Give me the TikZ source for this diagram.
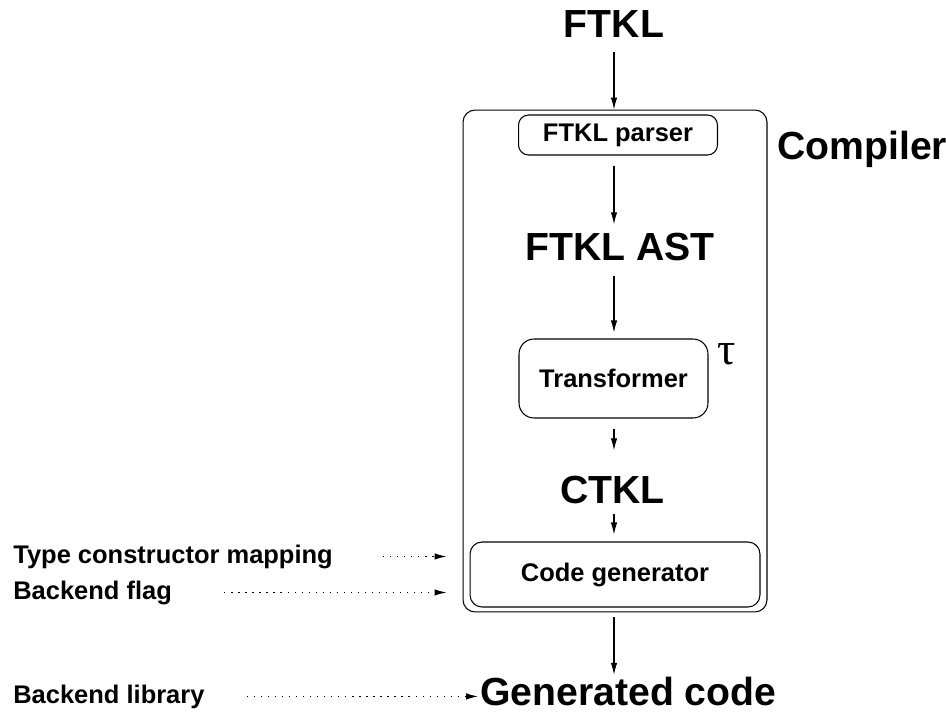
\documentclass[tikz,border=0pt]{standalone}
\usepackage{fontspec}
\setmainfont{Liberation Sans}
\newfontfamily\greekserif{Liberation Serif}
\usepackage{tikz}
\usetikzlibrary{arrows.meta}

\begin{document}
\begin{tikzpicture}[x=0.02cm, y=-0.02cm,
  big/.style={font=\bfseries\fontsize{22.3}{26}\selectfont, inner sep=0pt},
  lbl/.style={font=\bfseries\fontsize{14.5}{17}\selectfont, inner sep=0pt},
  stage/.style={draw, line width=0.6pt, rounded corners=0.24cm, inner sep=0pt,
    font=\bfseries\fontsize{14.5}{17}\selectfont},
  arr/.style={-{Latex[length=2.4mm,width=1.3mm]}, line width=0.6pt},
  dotarr/.style={arr, dash pattern=on 0.7pt off 3.3pt}]
  \useasboundingbox (0,0) rectangle (946,713);

  % compiler frame and its stages
  \node[stage, minimum width=6.08cm, minimum height=10.04cm] (compiler) at (615,361) {};
  \node[big, anchor=base west] (complbl) at (777,159) {Compiler};
  \node[stage, rounded corners=0.2cm, minimum width=3.98cm, minimum height=0.8cm] (parser) at (618,135) {FTKL parser};
  \node[stage, rounded corners=0.3cm, minimum width=3.78cm, minimum height=1.58cm] (transformer) at (613.5,378.5) {Transformer};
  \node[inner sep=0pt] (tau) at (727,354) {\greekserif\fontsize{26}{28}\selectfont τ};
  \node[stage, minimum width=5.8cm, minimum height=1.3cm] (codegen) at (615,574.5) {Code generator};

  % languages
  \node[big, anchor=base] (ftkl) at (614,38) {FTKL};
  \node[big, anchor=base] (ftklast) at (620,260) {FTKL AST};
  \node[big, anchor=base] (ctkl) at (612.5,503) {CTKL};
  \node[big, anchor=base west] (gen) at (480,705) {Generated code};

  % inputs on the left
  \node[lbl, anchor=base west] (tcmap) at (13,563) {Type constructor mapping};
  \node[lbl, anchor=base west] (flag) at (13,599) {Backend flag};
  \node[lbl, anchor=base west] (library) at (13,703) {Backend library};

  \draw[arr, shorten <=0.28cm] (ftkl.south) -- (compiler.north -| ftkl);
  \draw[arr, shorten <=0.2cm, shorten >=0.16cm] (parser.south -| ftkl) -- (ftkl |- ftklast.north);
  \draw[arr, shorten <=0.3cm, shorten >=0.12cm] (ftkl |- ftklast.south) -- (transformer.north -| ftkl);
  \draw[arr, shorten <=0.2cm, shorten >=0.5cm] (transformer.south -| ftkl) -- (ftkl |- ctkl.north);
  \draw[arr, shorten <=0.2cm, shorten >=0.14cm] (ftkl |- ctkl.south) -- (codegen.north -| ftkl);
  \draw[arr, shorten <=0.1cm, shorten >=0.03cm] (compiler.south -| ftkl) -- (ftkl |- gen.north);

  \draw[dotarr, shorten <=1cm, shorten >=0.46cm] (tcmap.east) -- (tcmap.east -| codegen.west);
  \draw[dotarr, shorten <=1.04cm, shorten >=0.46cm] (flag.east) -- (flag.east -| codegen.west);
  \draw[dotarr, shorten <=0.84cm, shorten >=0.04cm] (library.east) -- (library.east -| gen.west);
\end{tikzpicture}
\end{document}
